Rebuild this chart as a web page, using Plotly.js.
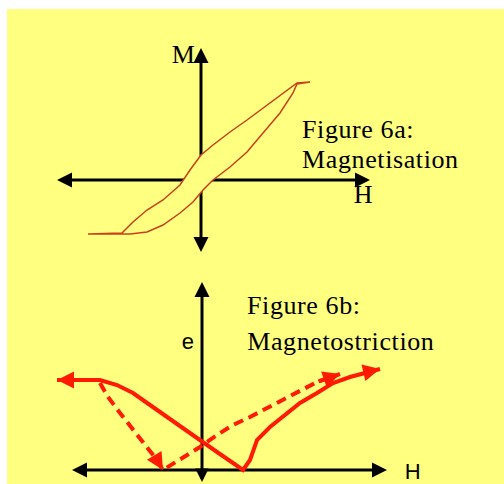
<!DOCTYPE html>
<html>
<head>
<meta charset="utf-8">
<script src="https://cdn.plot.ly/plotly-3.0.1.min.js"></script>
<style>
    body { margin: 0; background: #ffffff; }
    #plot1 { position: absolute; left: 7px; top: 9px; }
    #plot1 .annotation-text { letter-spacing: 0.6px; }
</style>
</head>
<body>
<div id="plot1"></div>
<script>
// Figure 6a: hysteresis loop (H, M in arbitrary units)
const H_upper = [-11.3, -7.9, -6.8, -5.4, -3.8, -2.1, -1.1, 0, 1.2, 2.9, 4.6, 6.2, 7.9, 9.6, 10.9];
const M_upper = [-5.4, -5.3, -4.2, -3.0, -2.0, -0.5, 1.0, 2.5, 3.5, 4.8, 6.0, 7.2, 8.5, 9.7, 9.8];
const H_lower = [9.6, 9.2, 7.9, 6.2, 4.6, 2.9, 1.2, 0.2, -0.8, -2.1, -3.8, -5.4, -7.1, -11.3];
const M_lower = [9.6, 8.7, 6.7, 4.7, 2.8, 1.3, 0, -1.0, -2.2, -3.3, -4.5, -5.2, -5.4, -5.4];

// Figure 6b: magnetostriction (H, e in arbitrary units)
const H_solid = [-14.5, -10.2, -8.5, -6.9, -5.2, -3.5, -1.9, -0.2, 1.5, 3.1, 4.1, 4.8, 5.5, 6.8, 8.1, 9.8, 11.5, 13.1, 14.8, 16.5, 17.8];
const e_solid = [9.0, 9.0, 8.5, 7.7, 6.5, 5.3, 4.2, 2.9, 1.8, 0.7, 0, 1.0, 3.0, 4.3, 5.3, 6.7, 7.7, 8.7, 9.3, 9.8, 10.1];
const H_dash_down = [-10.2, -9.4, -8.2, -6.9, -5.5, -4.5, -3.9];
const e_dash_down = [8.7, 7.3, 5.7, 4.0, 2.3, 1.0, 0];
const H_dash_up = [-3.9, -1.9, -0.2, 1.5, 3.1, 4.8, 6.5, 8.1, 9.8, 11.5, 13.8];
const e_dash_up = [0, 1.2, 2.3, 3.5, 4.5, 5.3, 6.2, 7.0, 8.0, 8.8, 9.6];

// axis extents (arrow tips)
const top_H_axis = [-14.4, 16.9];
const top_M_axis = [-7.2, 13.2];
const bot_H_axis = [-13.0, 18.5];
const bot_e_axis = [-1.2, 18.8];

const yellow = '#ffff80';
const loopColor = '#c8401c';
const red = '#ff1a00';

// arrow head only, tip at (x, y), pointing away from (ax, ay)
function head(xa, ya, x, y, ax, ay, color, width, size) {
    return {
        xref: xa, yref: ya, axref: xa, ayref: ya,
        x: x, y: y, ax: ax, ay: ay,
        text: '', showarrow: true,
        arrowhead: 2, arrowsize: size, arrowwidth: width,
        arrowcolor: color, standoff: 0, startstandoff: 0,
    };
}

function axisLine(xa, ya, xs, ys) {
    return {
        x: xs, y: ys, xaxis: xa, yaxis: ya,
        type: 'scatter', mode: 'lines',
        line: { color: 'black', width: 3 },
        hoverinfo: 'skip',
    };
}

// shorten so the line ends under the arrow heads
const inset = 1.0;
const trace_axes = [
    axisLine('x', 'y', [top_H_axis[0] + inset, top_H_axis[1] - inset], [0, 0]),
    axisLine('x', 'y', [0, 0], [top_M_axis[0] + inset, top_M_axis[1] - inset]),
    axisLine('x2', 'y2', [bot_H_axis[0] + inset, bot_H_axis[1] - inset], [0, 0]),
    axisLine('x2', 'y2', [0, 0], [bot_e_axis[0] + inset, bot_e_axis[1] - inset]),
];

// loop filled with background so it hides the axes inside it
const trace_loop = {
    x: H_upper.concat(H_lower),
    y: M_upper.concat(M_lower),
    xaxis: 'x', yaxis: 'y',
    type: 'scatter', mode: 'lines',
    fill: 'toself', fillcolor: yellow,
    line: { color: loopColor, width: 1.5 },
    hoverinfo: 'skip',
};

const trace_solid = {
    x: H_solid, y: e_solid,
    xaxis: 'x2', yaxis: 'y2',
    type: 'scatter', mode: 'lines',
    line: { color: red, width: 4 },
    hoverinfo: 'skip',
};

const trace_dash = {
    x: H_dash_down.concat(H_dash_up.slice(1)),
    y: e_dash_down.concat(e_dash_up.slice(1)),
    xaxis: 'x2', yaxis: 'y2',
    type: 'scatter', mode: 'lines',
    line: { color: red, width: 4, dash: '10px,6px' },
    hoverinfo: 'skip',
};

const data = trace_axes.concat([trace_loop, trace_solid, trace_dash]);

const a = 1.3; // arrow tail length
const n_s = H_solid.length;
const n_d = H_dash_up.length;
const n_dd = H_dash_down.length;
const annotations = [
    // axis arrow heads
    head('x', 'y', top_H_axis[0], 0, top_H_axis[0] + a, 0, 'black', 3, 1),
    head('x', 'y', top_H_axis[1], 0, top_H_axis[1] - a, 0, 'black', 3, 1),
    head('x', 'y', 0, top_M_axis[0], 0, top_M_axis[0] + a, 'black', 3, 1),
    head('x', 'y', 0, top_M_axis[1], 0, top_M_axis[1] - a, 'black', 3, 1),
    head('x2', 'y2', bot_H_axis[0], 0, bot_H_axis[0] + a, 0, 'black', 3, 1),
    head('x2', 'y2', bot_H_axis[1], 0, bot_H_axis[1] - a, 0, 'black', 3, 1),
    head('x2', 'y2', 0, bot_e_axis[0], 0, bot_e_axis[0] + a, 'black', 3, 0.9),
    head('x2', 'y2', 0, bot_e_axis[1], 0, bot_e_axis[1] - a, 'black', 3, 1),
    // curve arrow heads
    head('x2', 'y2', H_solid[0], e_solid[0], H_solid[1], e_solid[1], red, 4, 0.85),
    head('x2', 'y2', H_solid[n_s - 1], e_solid[n_s - 1], H_solid[n_s - 2], e_solid[n_s - 2], red, 4, 0.85),
    head('x2', 'y2', H_dash_down[n_dd - 1], e_dash_down[n_dd - 1], H_dash_down[n_dd - 2], e_dash_down[n_dd - 2], red, 4, 0.85),
    head('x2', 'y2', H_dash_up[n_d - 1], e_dash_up[n_d - 1], H_dash_up[n_d - 2], e_dash_up[n_d - 2], red, 4, 0.85),
];

const serif = { family: 'Liberation Serif, Times New Roman, serif', size: 26, color: 'black' };
const sans = { family: 'Liberation Sans, Arial, sans-serif', size: 22, color: 'black' };

// xshift makes up for the extra letter spacing, which plotly centres
function label(xa, ya, x, y, text, font) {
    return {
        xref: xa, yref: ya, x: x, y: y, text: text,
        showarrow: false, xanchor: 'left', yanchor: 'middle',
        xshift: text.length * 0.3,
        font: font,
    };
}

annotations.push(
    label('x', 'y', -3.1, 12.6, 'M', serif),
    label('x', 'y', 15.1, -1.5, 'H', serif),
    label('x', 'y', 9.9, 5.0, 'Figure 6a:', serif),
    label('x', 'y', 9.9, 2.0, 'Magnetisation', serif),
    label('x2', 'y2', -2.2, 12.8, 'e', sans),
    label('x2', 'y2', 20.1, -0.2, 'H', sans),
    label('x2', 'y2', 4.3, 16.4, 'Figure 6b:', serif),
    label('x2', 'y2', 4.3, 12.8, 'Magnetostriction', serif)
);

const hidden = { visible: false, fixedrange: true };

const layout = {
    width: 497,
    height: 475,
    margin: { l: 0, r: 0, t: 0, b: 0 },
    paper_bgcolor: yellow,
    plot_bgcolor: yellow,
    showlegend: false,
    xaxis: Object.assign({ range: [-19.4, 30.3], domain: [0, 1] }, hidden),
    yaxis: Object.assign({ range: [-8.2, 17.1], domain: [0.4674, 1] }, hidden),
    xaxis2: Object.assign({ range: [-19.5, 30.2], domain: [0, 1], anchor: 'y2' }, hidden),
    yaxis2: Object.assign({ range: [-1.4, 20.8], domain: [0, 0.4674], anchor: 'x2' }, hidden),
    annotations: annotations,
};

Plotly.newPlot('plot1', data, layout, { staticPlot: true });
</script>
</body>
</html>
